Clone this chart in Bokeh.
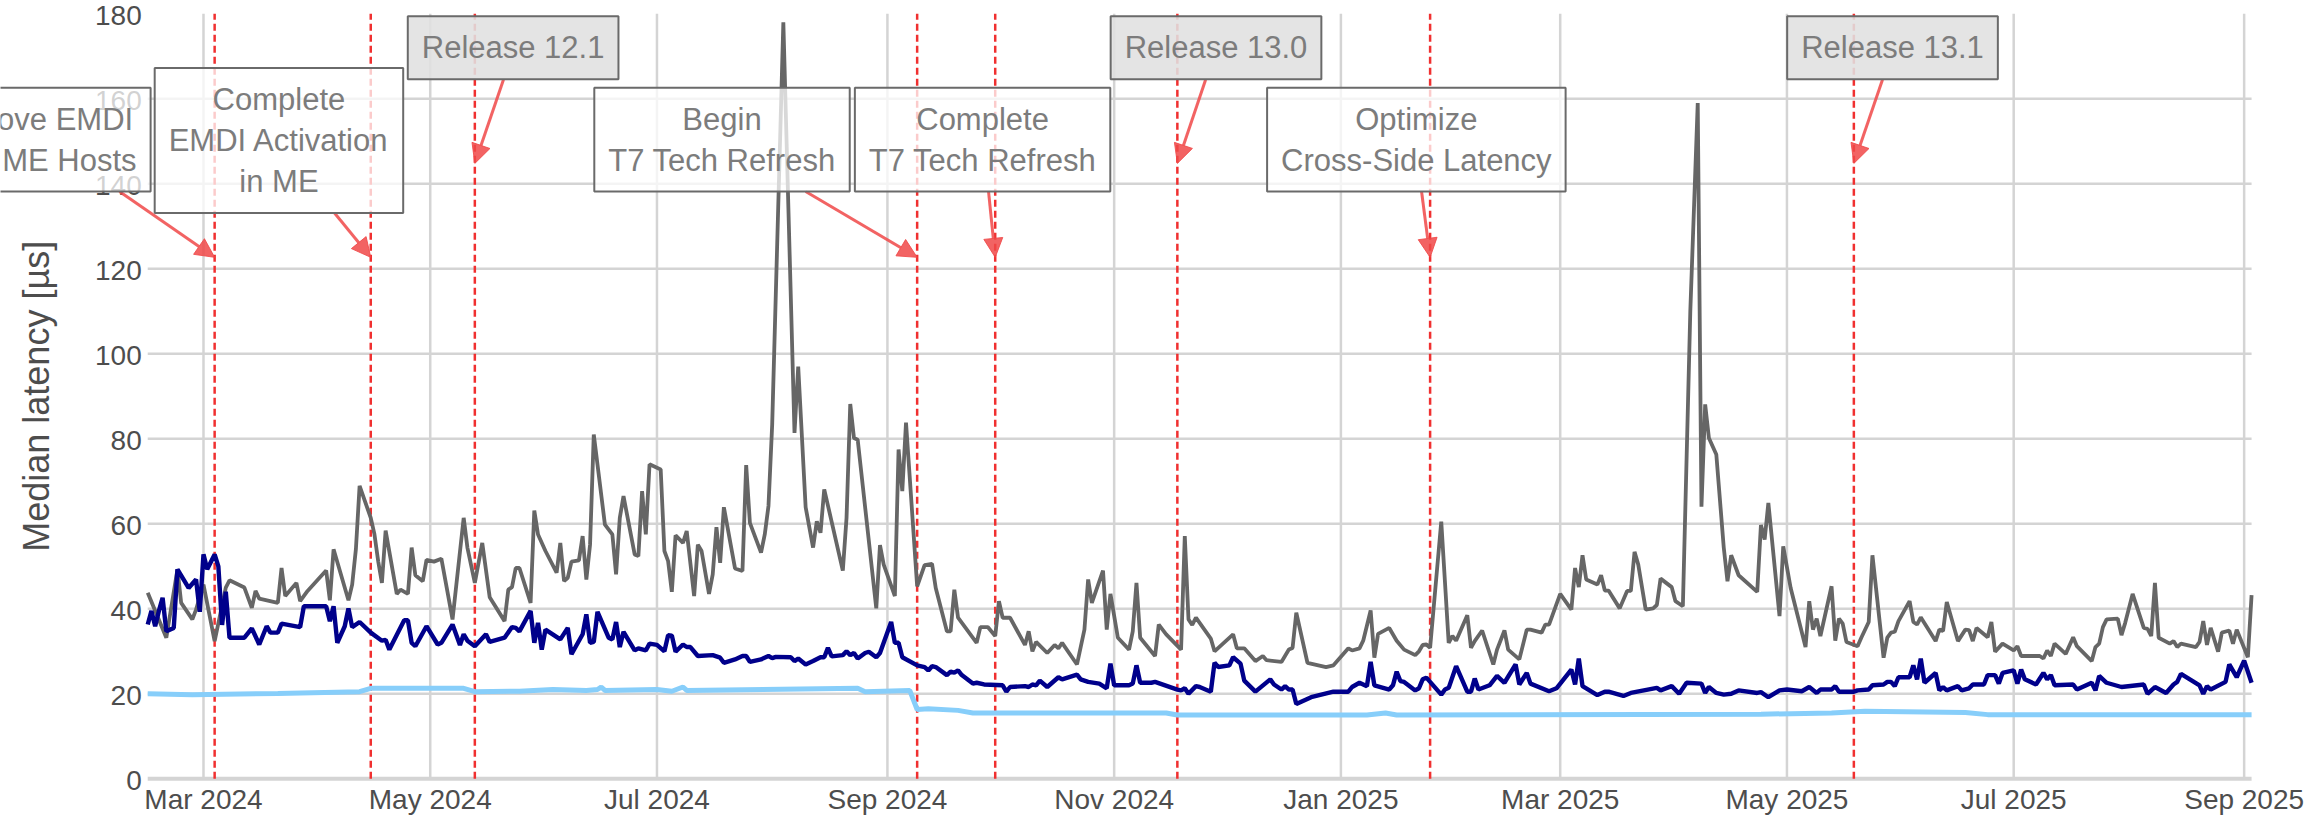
import numpy as np
import pandas as pd
from bokeh.plotting import figure
from bokeh.models import Range1d, Label, Arrow, NormalHead
from bokeh.embed import file_html
from bokeh.resources import INLINE
from bokeh.core.properties import value

# ---------------- data (day offsets from BASE_DATE) ----------------
BASE_DATE = "2024-03-01"

gray_day = [-15,-10,-7,-6,-3,-2,0,3,6,7,11,13,14,15,20,21,22,25,26,28,33,34,35,39,40,41,42,45,46,47,48,49,
            52,53,55,56,57,59,60,62,64,67,70,71,73,75,77,81,82,83,84,85,88,89,90,92,95,96,97,98,99,101,102,
            103,104,105,108,110,111,112,113,116,117,118,119,120,123,124,125,126,127,129,130,132,133,134,136,
            137,138,139,140,143,145,146,147,150,151,152,153,156,159,160,162,164,165,166,167,172,173,174,175,
            176,181,182,183,186,187,188,189,192,194,196,197,200,201,202,203,208,209,211,213,214,215,217,221,
            222,223,224,227,229,230,231,235,237,238,239,242,243,244,246,249,250,251,252,256,257,259,263,264,
            265,266,267,271,272,277,278,280,283,285,286,290,292,293,294,297,302,304,308,309,311,312,314,315,
            316,319,321,323,326,327,328,329,330,333,335,336,337,340,341,342,344,347,348,350,351,354,356,357,
            360,361,362,365,368,369,370,371,372,375,376,377,378,381,383,384,385,386,388,390,391,392,395,396,
            398,400,402,403,404,405,407,409,410,411,413,418,419,420,421,424,425,427,431,432,433,434,435,438,
            439,440,441,442,445,446,448,449,452,453,454,455,456,459,460,461,462,466,467,468,469,472,474,475,
            476,477,480,481,482,484,487,488,489,494,495,496,497,498,501,503,504,508,509,510,511,512,515,516,
            517,519,522,523,524,525,526,529,530,531,532,536,537,538,539,540,542,543,545,546,547,550,551]
gray_val = [43.8,33.2,49.3,41.4,37.5,39.8,45.7,32.4,45.0,46.7,45.0,40.2,44.2,42.4,41.4,49.6,43.0,46.1,41.8,
            44.2,49.0,42.0,54.0,42.0,45.7,54.0,68.9,61.4,57.5,51.2,46.1,58.4,43.5,44.5,43.5,54.4,47.9,46.5,
            51.5,51.1,51.8,37.5,61.4,54.4,46.1,55.5,42.7,37.1,44.5,45.1,49.6,49.6,41.4,63.1,57.5,53.6,48.5,
            55.5,46.5,47.3,51.1,51.4,57.1,46.9,55.1,81.0,59.8,57.5,48.1,61.4,66.5,52.8,52.4,67.7,57.5,74.0,
            72.8,53.6,51.2,44.0,57.3,55.5,58.3,43.0,55.1,53.6,43.5,48.1,59.2,50.8,63.9,49.5,48.9,73.8,60.2,
            53.2,57.5,64.2,83.4,178.0,81.4,97.0,63.9,54.4,60.6,57.9,68.1,49.0,61.4,88.2,80.2,79.8,40.1,55.0,
            50.4,43.0,77.5,67.7,83.8,45.3,50.3,50.6,44.9,34.7,34.7,44.5,37.9,32.0,35.7,35.7,33.6,41.8,37.9,
            37.9,31.5,34.7,30.0,32.2,29.6,31.5,30.7,32.0,26.9,35.1,46.9,41.4,49.0,35.1,43.5,33.2,30.4,34.7,
            46.1,33.2,28.9,36.3,34.0,30.4,57.1,37.5,36.2,37.9,33.0,30.0,34.0,30.7,30.7,27.7,28.9,27.9,27.5,
            30.4,30.8,39.1,27.3,26.3,26.7,30.7,30.2,30.7,32.5,39.6,28.5,34.1,35.5,32.5,30.4,29.1,30.0,31.5,
            31.6,30.8,60.5,32.0,33.6,32.5,38.5,30.8,32.4,34.9,26.9,30.4,34.9,30.4,28.1,35.1,35.1,34.4,36.3,
            36.3,43.5,39.8,49.6,45.1,52.6,46.9,45.7,47.9,44.3,44.3,40.1,44.2,44.2,53.4,50.4,39.8,40.1,40.9,
            47.1,45.1,41.8,40.6,110.0,159.0,64.0,88.1,80.2,76.3,54.4,46.5,52.6,47.9,44.0,59.7,56.3,64.9,38.3,
            54.7,44.9,31.0,41.8,35.1,37.7,33.6,45.3,32.5,37.7,36.5,32.2,31.2,33.2,36.9,52.6,28.5,33.2,34.4,
            34.6,37.1,41.8,36.9,36.3,38.0,32.4,35.1,34.8,41.6,32.4,35.1,35.0,32.4,35.5,33.3,36.9,29.9,31.8,
            30.2,31.2,28.9,28.9,28.3,30.2,28.9,31.8,29.4,33.3,31.2,27.7,31.0,31.8,35.7,37.5,37.7,33.8,36.7,
            43.5,35.5,35.3,33.6,46.1,33.2,31.8,32.4,31.0,31.8,31.0,32.2,37.1,31.5,35.5,29.9,34.4,34.9,31.8,
            35.1,28.6,43.2]

blue_day = [-15,-14,-13,-12,-11,-10,-8,-7,-4,-2,-1,0,1,3,4,5,6,7,11,13,15,17,18,20,21,26,27,33,34,35,36,38,
            39,40,42,45,48,49,50,54,55,56,57,60,63,64,67,69,70,71,73,76,77,81,83,84,85,88,89,90,91,92,96,98,
            99,102,103,104,105,106,109,110,111,112,113,116,117,119,120,122,124,125,126,127,129,130,131,133,
            137,139,140,143,145,146,147,150,152,153,154,158,159,160,162,164,166,167,168,169,172,173,174,175,
            176,178,179,181,182,185,186,187,188,192,194,195,196,197,200,201,202,203,204,207,208,210,215,216,
            217,221,222,223,224,225,227,230,231,235,236,238,241,243,244,245,249,250,251,252,255,256,262,263,
            264,265,267,268,271,272,273,276,277,279,280,283,287,288,290,291,292,293,294,298,304,308,309,311,
            313,314,315,319,320,321,322,323,326,327,328,329,333,334,335,337,340,341,342,343,346,348,350,353,
            354,356,357,362,364,368,369,370,371,375,377,378,382,384,391,392,395,397,399,403,404,405,407,409,
            411,413,418,419,421,424,426,430,432,434,435,438,439,440,444,445,448,449,452,453,454,455,456,459,
            460,461,462,463,466,467,468,469,472,473,475,476,479,480,482,483,484,487,488,489,490,493,495,496,
            497,498,503,504,508,509,510,512,516,522,523,525,528,530,531,532,537,538,539,540,544,545,547,549,
            551]
blue_val = [36.3,39.5,35.9,39.5,42.6,34.7,35.5,49.3,44.9,46.9,39.3,52.8,49.3,52.8,50.0,36.2,44.0,33.2,33.2,
            35.4,31.6,35.9,34.4,34.4,36.5,35.7,40.6,40.6,37.1,40.6,32.0,35.9,40.1,35.7,36.9,34.4,32.5,32.7,
            30.4,37.3,37.3,32.0,31.2,35.9,31.6,32.0,36.3,31.5,34.0,32.5,31.2,34.0,32.2,33.2,35.7,35.5,34.7,
            39.5,32.0,36.7,30.4,35.1,32.8,35.5,29.3,34.0,38.7,32.0,32.2,39.3,33.2,32.8,36.9,31.0,34.6,30.2,
            30.7,30.2,31.8,31.5,30.0,33.8,33.7,29.9,31.6,31.0,31.0,28.9,29.1,28.5,27.3,28.1,28.9,28.9,27.5,
            28.1,28.9,28.4,28.7,28.6,27.7,28.3,26.9,27.7,28.6,28.6,30.8,28.8,29.1,30.0,29.1,29.6,28.3,29.6,
            29.9,28.6,29.6,36.9,32.0,32.0,28.6,26.7,26.3,25.5,26.5,26.3,24.4,25.2,25.0,25.5,24.4,22.4,22.6,
            22.2,22.0,20.5,21.6,21.8,21.6,22.2,22.0,23.1,21.6,23.9,23.4,24.5,23.4,22.8,22.4,21.3,27.1,22.0,
            22.0,22.4,26.7,22.6,22.6,22.8,21.0,20.8,21.3,20.0,21.8,21.6,20.5,27.3,26.3,26.7,28.6,27.1,23.1,
            20.5,23.4,22.2,21.0,21.8,21.0,21.0,17.6,19.2,20.5,20.5,21.6,22.6,21.8,27.5,22.0,21.0,22.0,25.2,
            23.0,22.8,20.8,21.3,23.4,23.8,19.8,21.0,21.4,26.5,20.5,20.5,23.6,21.0,22.0,24.2,22.6,26.9,22.2,
            24.9,22.4,20.6,21.3,25.7,22.2,28.3,21.8,19.7,20.5,20.5,19.5,20.2,21.4,20.8,21.8,20.0,22.6,22.4,
            20.2,21.6,20.2,19.8,20.0,20.8,20.2,20.4,19.2,20.8,21.0,20.6,21.6,20.2,21.0,21.0,21.8,20.5,20.5,
            20.8,21.0,22.0,22.2,22.8,22.8,21.8,23.9,23.9,26.7,23.4,28.3,22.6,24.9,20.8,21.6,20.8,21.8,20.8,
            21.3,22.2,22.2,24.4,24.4,22.4,24.9,25.5,22.4,25.7,23.4,22.2,24.9,23.4,24.4,22.0,22.2,21.0,22.6,
            20.8,24.2,22.6,21.6,22.2,20.0,21.6,20.2,22.2,22.8,24.7,22.0,20.0,21.8,21.0,22.8,26.9,23.9,27.8,
            22.6]

sky_day = [-15,-3,20,42,45,70,73,85,94,103,106,107,108,122,126,129,130,176,178,190,192,195,203,207,259,
           262,313,318,321,419,438,447,474,480,551]
sky_val = [20.0,19.8,20.1,20.5,21.3,21.3,20.5,20.6,21.0,20.8,21.0,21.6,20.8,21.0,20.6,21.6,20.8,21.3,20.5,
           20.8,16.3,16.5,16.1,15.5,15.5,15.0,15.0,15.5,15.0,15.2,15.5,15.9,15.6,15.1,15.1]

event_dates = ["2024-03-04", "2024-04-15", "2024-05-13", "2024-09-09", "2024-09-30",
               "2024-11-18", "2025-01-25", "2025-05-19"]
event_labels = ["Move EMDI\nto ME Hosts", "Complete\nEMDI Activation\nin ME", "Release 12.1",
                "Begin\nT7 Tech Refresh", "Complete\nT7 Tech Refresh", "Release 13.0",
                "Optimize\nCross-Side Latency", "Release 13.1"]
event_is_release = [False, False, True, False, False, True, False, True]

x_tick_dates = ["2024-03-01", "2024-05-01", "2024-07-01", "2024-09-01", "2024-11-01",
                "2025-01-01", "2025-03-01", "2025-05-01", "2025-07-01", "2025-09-01"]
x_tick_labels = ["Mar 2024", "May 2024", "Jul 2024", "Sep 2024", "Nov 2024",
                 "Jan 2025", "Mar 2025", "May 2025", "Jul 2025", "Sep 2025"]
y_ticks = [0, 20, 40, 60, 80, 100, 120, 140, 160, 180]
y_title = "Median latency [µs]"

# ---------------- layout constants (repelled labels, canvas extent) ----------------
label_pos_day = [-40.7, 20.3, 83.3, 139.5, 209.6, 272.4, 326.3, 454.4]
label_pos_y = [150.4, 150.2, 172.0, 150.4, 150.4, 172.0, 150.4, 172.0]
arrow_start_day = [-22.6, 35.2, 80.7, 162.0, 211.2, 269.6, 327.7, 451.7]
arrow_start_y = [138.2, 133.2, 164.5, 138.2, 138.2, 164.5, 138.2, 164.5]
arrow_end_y = [122.7, 122.7, 144.8, 122.7, 122.7, 144.8, 122.7, 144.8]
CANVAS_DAY = (-54.61, 567.39)
CANVAS_Y = (-8.87, 183.13)
YLAB_DAY = -44.9

base = pd.Timestamp(BASE_DATE)


def to_dt(days):
    return base + pd.to_timedelta(np.asarray(days, dtype=float), unit="D")


def ms(ts):
    return pd.Timestamp(ts).value / 1e6


def day_ms(d):
    return ms(base + pd.Timedelta(days=float(d)))


FONT = "Liberation Sans"
TXT = "#4d4d4d"
GRID = "#d4d4d4"

p = figure(width=2312, height=816, x_axis_location=None, y_axis_location=None,
           x_range=Range1d(day_ms(CANVAS_DAY[0]), day_ms(CANVAS_DAY[1])),
           y_range=Range1d(*CANVAS_Y),
           output_backend="svg", toolbar_location=None, min_border=0)
p.outline_line_color = None
p.grid.visible = False
p.background_fill_color = "white"
p.border_fill_color = "white"

x_first = day_ms(min(gray_day))
x_last = day_ms(max(gray_day))
tick_ms = [ms(d) for d in x_tick_dates]

# panel grid
p.segment(x0=tick_ms, y0=[0] * len(tick_ms), x1=tick_ms, y1=[y_ticks[-1]] * len(tick_ms),
          line_color=GRID, line_width=2.5)
p.segment(x0=[x_first] * (len(y_ticks) - 2), y0=y_ticks[1:-1],
          x1=[x_last] * (len(y_ticks) - 2), y1=y_ticks[1:-1],
          line_color=GRID, line_width=2.6)
p.segment(x0=[x_first], y0=[0], x1=[x_last], y1=[0], line_color=GRID, line_width=4)

# event lines
ev_ms = [ms(d) for d in event_dates]
p.segment(x0=ev_ms, y0=[0] * len(ev_ms), x1=ev_ms, y1=[y_ticks[-1]] * len(ev_ms),
          line_color="#f03030", line_width=2.5, line_dash="7 4")

# series
p.line(x=to_dt(sky_day), y=sky_val, line_color="#87CEFA", line_width=5.0)
p.line(x=to_dt(gray_day), y=gray_val, line_color="#666666", line_width=3.8)
p.line(x=to_dt(blue_day), y=blue_val, line_color="#00008B", line_width=4.4)

# axes as text
p.text(x=[x_first] * len(y_ticks), y=y_ticks, text=[str(t) for t in y_ticks],
       text_font=value(FONT), text_font_size=value("28px"), text_color=TXT,
       text_align="right", text_baseline="middle", x_offset=-6, y_offset=1.5)
p.text(x=tick_ms, y=[0] * len(tick_ms), text=x_tick_labels,
       text_font=value(FONT), text_font_size=value("28px"), text_color=TXT,
       text_align="center", text_baseline="middle", y_offset=21)
p.text(x=[day_ms(YLAB_DAY)], y=[(y_ticks[0] + y_ticks[-1]) / 2], text=[y_title], angle=np.pi / 2,
       text_font=value(FONT), text_font_size=value("36px"), text_color=TXT,
       text_align="center", text_baseline="middle")

# arrows
for i, d in enumerate(event_dates):
    head = NormalHead(size=19, fill_color="#f04848", fill_alpha=0.85,
                      line_color="#f04848", line_alpha=0.85, line_width=1)
    p.add_layout(Arrow(end=head, x_start=day_ms(arrow_start_day[i]), y_start=arrow_start_y[i],
                       x_end=ms(d), y_end=arrow_end_y[i],
                       line_color="#f04848", line_alpha=0.85, line_width=3))

# labels
for i, txt in enumerate(event_labels):
    rel = event_is_release[i]
    p.add_layout(Label(x=day_ms(label_pos_day[i]), y=label_pos_y[i], text=txt,
                       x_units="data", y_units="data",
                       text_align="center", text_baseline="middle",
                       text_font=FONT, text_font_size="31px", text_color="#7c7c7c",
                       text_line_height=1.17,
                       background_fill_color="#e0e0e0" if rel else "white",
                       background_fill_alpha=0.88 if rel else 0.75,
                       border_line_color="#6a6a6a", border_line_width=2,
                       padding=14))

open("out.html", "w").write(file_html(p, INLINE))
